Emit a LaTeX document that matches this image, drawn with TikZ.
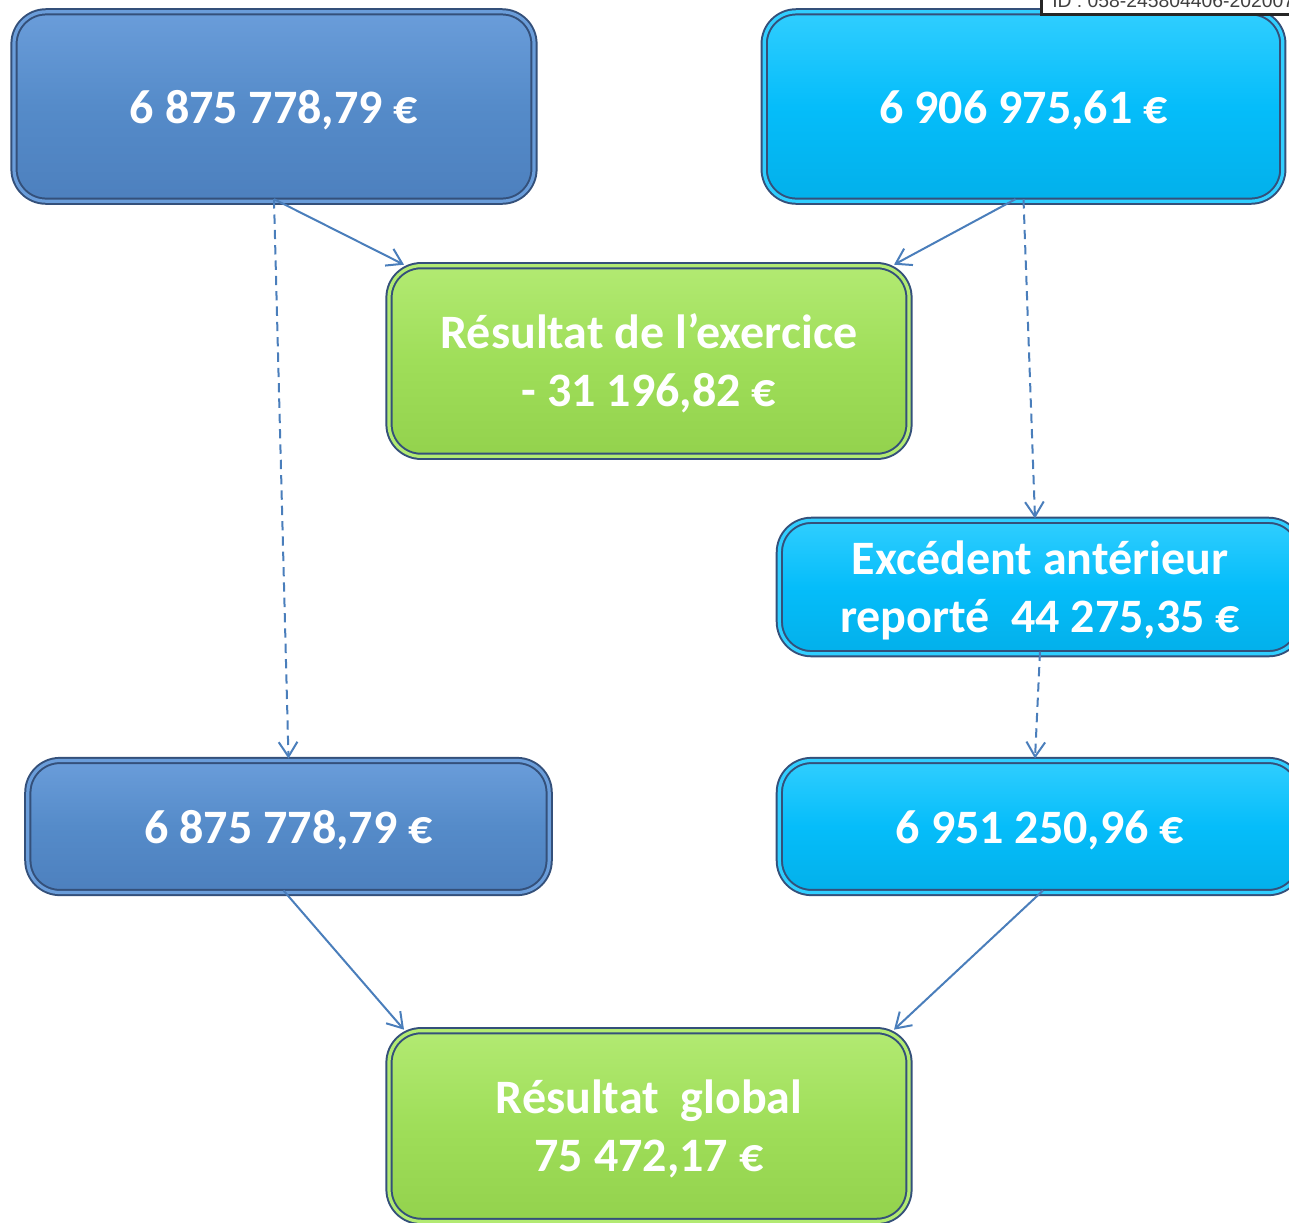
\documentclass[tikz,border=0pt]{standalone}
\usepackage{fontspec}
\setmainfont{Carlito}
\newfontfamily\arialfont{Liberation Sans}
\usetikzlibrary{arrows.meta,calc}
\definecolor{bluemain}{HTML}{558BC9}
\definecolor{bluetop}{HTML}{6A9DDA}
\definecolor{bluebot}{HTML}{4D80BE}
\definecolor{cyanmain}{HTML}{05BDFA}
\definecolor{cyantop}{HTML}{30CEFF}
\definecolor{cyanbot}{HTML}{03B0EA}
\definecolor{greenmain}{HTML}{9FDE59}
\definecolor{greentop}{HTML}{B2EA72}
\definecolor{greenbot}{HTML}{93D24D}
\definecolor{rimdark}{HTML}{34507A}
\definecolor{arrowblue}{HTML}{4A7EBB}
\newcommand{\cardtext}[1]{\raisebox{-3.8pt}[\height][\depth]{\begin{tabular}{@{}c@{}}#1\end{tabular}}}
\begin{document}
\begin{tikzpicture}[x=0.75pt,y=-0.75pt,
  card/.style={rounded corners=24pt, inner sep=0pt, outer sep=0pt, anchor=center,
    draw=rimdark, line width=1.5pt, double distance=2.4pt, text=white,
    font=\fontsize{36}{43}\selectfont\bfseries},
  bluecard/.style={card, double=bluetop, top color=bluetop, bottom color=bluebot, middle color=bluemain},
  cyancard/.style={card, double=cyantop, top color=cyantop, bottom color=cyanbot, middle color=cyanmain},
  greencard/.style={card, double=greentop, top color=greentop, bottom color=greenbot, middle color=greenmain},
  link/.style={draw=arrowblue, line width=1.5pt, -{Straight Barb[length=11pt,width=14pt]}},
  dlink/.style={link, dash pattern=on 7pt off 4.5pt}
]
\useasboundingbox (0,0) rectangle (1289,1222);
\clip (0,0) rectangle (1289,1222);

\node[bluecard, minimum width=390pt, minimum height=142pt] (A) at (274,106.5) {\cardtext{6 875 778,79 €}};
\node[cyancard, minimum width=389pt, minimum height=142pt] (B) at (1023.5,106.5) {\cardtext{6 906 975,61 €}};
\node[greencard, minimum width=390pt, minimum height=143pt] (C) at (649,361) {\cardtext{Résultat de l’exercice\\- 31 196,82 €}};
\node[cyancard, minimum width=391pt, minimum height=100pt] (D) at (1040,587) {\cardtext{Excédent antérieur\\reporté~~44 275,35 €}};
\node[bluecard, minimum width=391pt, minimum height=99pt] (E) at (288.5,826.5) {\cardtext{6 875 778,79 €}};
\node[cyancard, minimum width=391pt, minimum height=99pt] (F) at (1040,826.5) {\cardtext{6 951 250,96 €}};
\node[greencard, minimum width=390pt, minimum height=143pt] (G) at (649,1126) {\cardtext{Résultat~~global\\75 472,17 €}};

\draw[link] ($(A.south)+(0,-2)$) -- ($(C.north west)+(15,-1)$);
\draw[link] ($(B.south)+(-8,-2)$) -- ($(C.north east)+(-15,-1)$);
\draw[dlink] ($(A.south)+(0,-2)$) -- ($(E.north)+(0,-2)$);
\draw[dlink] ($(B.south)+(0,-2)$) -- ($(D.north)+(-5,-2)$);
\draw[dlink] ($(D.south)+(0,-2)$) -- ($(F.north)+(-5,-2)$);
\draw[link] ($(E.south)+(-5,-2)$) -- ($(G.north west)+(15,-1)$);
\draw[link] ($(F.south)+(3,-2)$) -- ($(G.north east)+(-15,-1)$);

\node[draw=black!85, line width=2.2pt, fill=white, anchor=south west, minimum width=215pt, minimum height=30pt, inner sep=0pt] (idbox) at (1040,16) {};
\node[anchor=base west, inner sep=0pt, text=black!75, font=\arialfont\fontsize{14.5}{17}\selectfont] (idtext) at (1052,7) {ID : 058-245804406-2020072};
\end{tikzpicture}
\end{document}
